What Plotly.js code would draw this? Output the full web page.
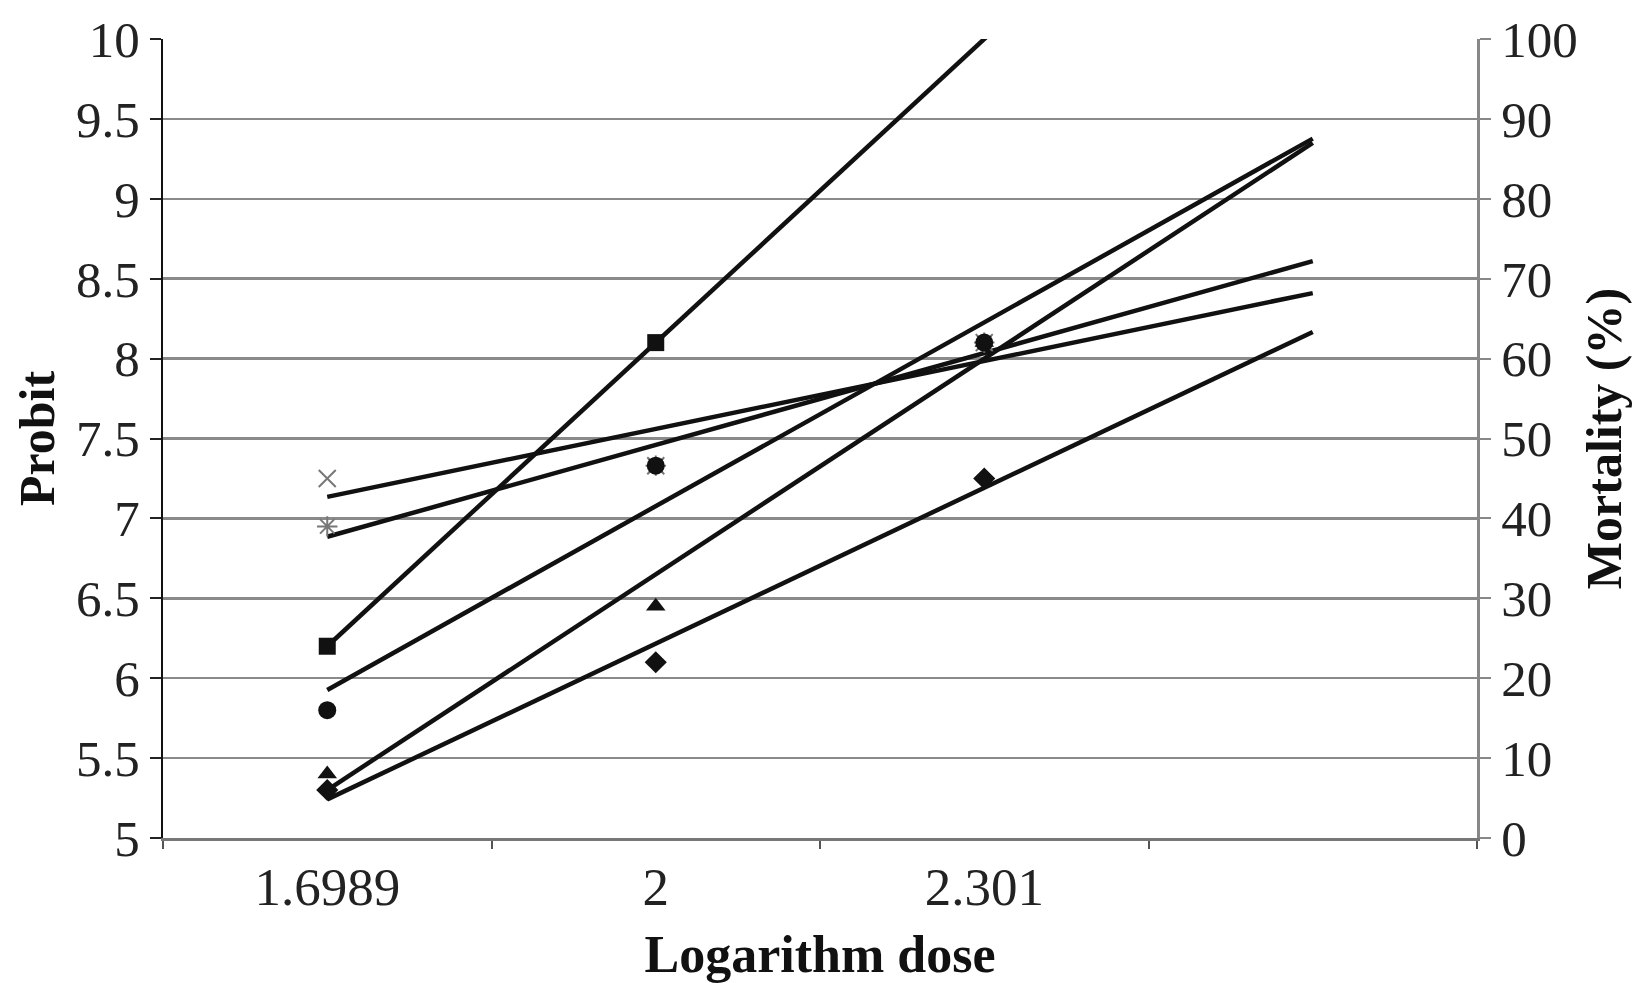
<!DOCTYPE html>
<html><head><meta charset="utf-8">
<script src="https://cdn.plot.ly/plotly-3.0.1.min.js"></script>
<style>html,body{margin:0;padding:0;background:#fff}#chart{width:1637px;height:983px}</style>
</head><body><div id="chart"></div>
<script>
// Categories on the x axis (4th category has no label)
const categories = ['1.6989', '2', '2.301', '\u00a0'];
const xTitle = 'Logarithm dose';
const yTitle = 'Probit';
const y2Title = 'Mortality (%)';

// Probit values (null = no point)
const seriesDiamond  = [5.30, 6.10, 7.25, null];
const seriesSquare   = [6.20, 8.10, null, null];
const seriesTriangle = [5.40, 6.45, 8.10, null];
const seriesX        = [7.25, 7.33, 8.10, null];
const seriesStar     = [6.95, 7.33, 8.10, null];
const seriesCircle   = [5.80, 7.33, 8.10, null];

// Linear trendline (least squares over category index), as the source chart draws
function trend(values) {
  const pts = values.map((v, i) => [i, v]).filter(p => p[1] !== null);
  const n = pts.length;
  const mx = pts.reduce((s, p) => s + p[0], 0) / n;
  const my = pts.reduce((s, p) => s + p[1], 0) / n;
  let sxy = 0, sxx = 0;
  pts.forEach(p => { sxy += (p[0] - mx) * (p[1] - my); sxx += (p[0] - mx) * (p[0] - mx); });
  const b = sxy / sxx, a = my - b * mx;
  return categories.map((c, i) => a + b * i);
}

const font = '"Liberation Serif", "Times New Roman", serif';
const series = [
  {y: seriesDiamond,  symbol: 'diamond',       size: 17, color: '#111', lw: 0},
  {y: seriesSquare,   symbol: 'square',        size: 17, color: '#111', lw: 0},
  {y: seriesTriangle, symbol: 'triangle-up',   size: 17, color: '#111', lw: 0},
  {y: seriesX,        symbol: 'x-thin-open',   size: 17, color: '#777', lw: 2},
  {y: seriesStar,     symbol: 'asterisk-open', size: 17, color: '#777', lw: 2},
  {y: seriesCircle,   symbol: 'circle',        size: 18, color: '#111', lw: 0}
];

const traces = [];
series.forEach(s => {
  traces.push({
    x: categories, y: trend(s.y), mode: 'lines', type: 'scatter',
    line: {color: '#111', width: 4.5}, hoverinfo: 'skip', showlegend: false
  });
});
series.forEach(s => {
  traces.push({
    x: categories, y: s.y, mode: 'markers', type: 'scatter', showlegend: false,
    marker: {symbol: s.symbol, size: s.size, color: s.color,
             line: {color: s.color, width: s.lw}}
  });
});
traces.push({x: categories, y: [null, null, null, null], yaxis: 'y2', mode: 'markers',
             type: 'scatter', showlegend: false, hoverinfo: 'skip'});

const layout = {
  width: 1637, height: 983,
  margin: {l: 163, r: 160, t: 39, b: 145},
  paper_bgcolor: '#fff', plot_bgcolor: '#fff',
  showlegend: false,
  font: {family: font, color: '#1a1a1a'},
  xaxis: {
    type: 'category', categoryorder: 'array', categoryarray: categories,
    range: [-0.5, 3.5], tickson: 'boundaries', ticks: 'outside', ticklen: 8,
    tickcolor: '#555', tickwidth: 2, showgrid: false, zeroline: false,
    showline: true, linecolor: '#777', linewidth: 3,
    tickfont: {family: font, size: 53, color: '#222'},
    title: {text: xTitle, font: {family: font, size: 52, color: '#111', weight: 'bold'}, standoff: 22}
  },
  yaxis: {
    range: [5, 10], tickmode: 'linear', tick0: 5, dtick: 0.5,
    ticks: 'outside', ticklen: 11, tickcolor: '#222', tickwidth: 2,
    showline: true, linecolor: '#111', linewidth: 2,
    showgrid: true, gridcolor: '#8a8a8a', gridwidth: 2.5, zeroline: false,
    tickfont: {family: font, size: 51, color: '#222'},
    title: {text: yTitle, font: {family: font, size: 50, color: '#111', weight: 'bold'}, standoff: 6}
  },
  yaxis2: {
    overlaying: 'y', side: 'right', range: [0, 100], tickmode: 'linear', tick0: 0, dtick: 10,
    ticks: 'outside', ticklen: 11, tickcolor: '#888', tickwidth: 2,
    showline: true, linecolor: '#888', linewidth: 3, showgrid: false, zeroline: false,
    tickfont: {family: font, size: 51, color: '#222'},
    title: {text: y2Title, font: {family: font, size: 50, color: '#111', weight: 'bold'}, standoff: 10}
  }
};

Plotly.newPlot('chart', traces, layout, {displayModeBar: false, staticPlot: true});
</script></body></html>
